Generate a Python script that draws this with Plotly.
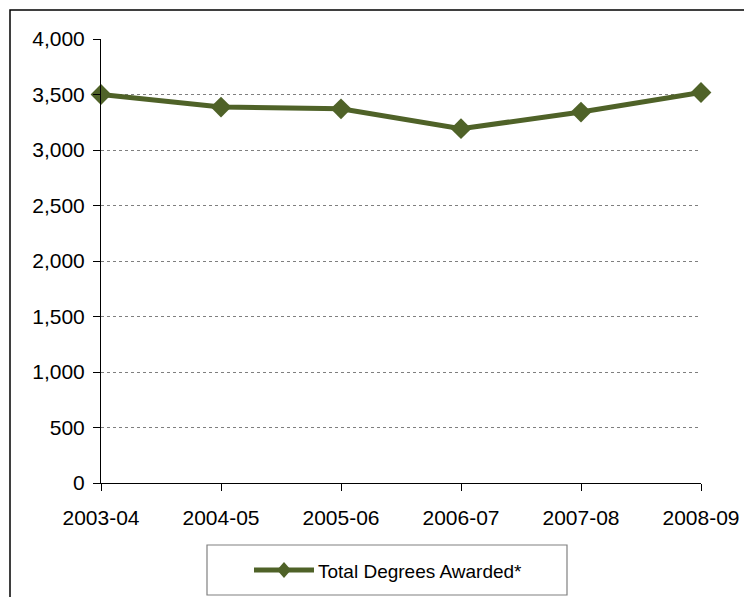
import plotly.graph_objects as go

# Data
years = ["2003-04", "2004-05", "2005-06", "2006-07", "2007-08", "2008-09"]
degrees = [3500, 3387, 3371, 3192, 3342, 3518]
y_ticks = [0, 500, 1000, 1500, 2000, 2500, 3000, 3500, 4000]
series_name = "Total Degrees Awarded*"

green = "#4F6228"
font = "Liberation Sans, Arial, sans-serif"

# Canvas size and plot area (pixels)
W, H = 744, 597
X0, X1, Y0, Y1 = 101, 701, 39, 483
L, T, R, B = X0, Y0, W - X1, H - Y1
pw, ph = X1 - X0, Y1 - Y0


def px(x):
    return (x - X0) / pw


def py(y):
    return (Y1 - y) / ph


fig = go.Figure()
fig.add_trace(go.Scatter(
    x=years, y=degrees,
    mode="lines+markers",
    line=dict(color=green, width=5),
    marker=dict(symbol="diamond", size=16, color=green),
    cliponaxis=False,
    showlegend=False,
    name=series_name,
))

shapes = [
    # outer chart border (runs off the right and bottom edges)
    dict(type="rect", xref="paper", yref="paper",
         x0=px(10), x1=px(W + 30), y0=py(H + 40), y1=py(10),
         line=dict(color="black", width=1.5)),
    # legend box
    dict(type="rect", xref="paper", yref="paper",
         x0=px(207), x1=px(567), y0=py(595), y1=py(545),
         line=dict(color="#808080", width=1.2)),
    # legend line sample
    dict(type="line", xref="paper", yref="paper",
         x0=px(254), x1=px(314), y0=py(570), y1=py(570),
         line=dict(color=green, width=5)),
    # legend diamond
    dict(type="path", xref="paper", yref="paper",
         xsizemode="pixel", ysizemode="pixel",
         xanchor=px(284), yanchor=py(570),
         path="M 0 8 L 7 0 L 0 -8 L -7 0 Z",
         fillcolor=green, line=dict(width=0)),
]

fig.update_layout(
    width=W, height=H,
    margin=dict(l=L, r=R, t=T, b=B, autoexpand=False),
    paper_bgcolor="white", plot_bgcolor="white",
    font=dict(family=font, size=21, color="black"),
    shapes=shapes,
    annotations=[dict(
        text=series_name, xref="paper", yref="paper",
        x=px(316), y=py(571), xanchor="left", yanchor="middle",
        showarrow=False, font=dict(family=font, size=19, color="black"),
    )],
    xaxis=dict(
        type="category",
        range=[0, len(years) - 1],
        automargin=False,
        showgrid=False, zeroline=False,
        showline=True, linecolor="black", linewidth=1,
        ticks="outside", ticklen=7, tickcolor="black",
        tickfont=dict(size=21), tickangle=0,
        ticklabelstandoff=9,
    ),
    yaxis=dict(
        range=[0, 4000],
        automargin=False,
        tickvals=y_ticks, tickformat=",",
        showgrid=True, gridcolor="#7f7f7f", griddash="dot", gridwidth=1,
        zeroline=False,
        showline=True, linecolor="black", linewidth=1,
        ticks="outside", ticklen=7, tickcolor="black",
        tickfont=dict(size=21),
        ticklabelstandoff=4,
    ),
)

# drop the default page margin so the figure fills the window
fig.write_html(
    "out.html",
    config={"displayModeBar": False},
    post_script="document.body.style.margin='0';document.body.style.overflow='hidden';",
)
